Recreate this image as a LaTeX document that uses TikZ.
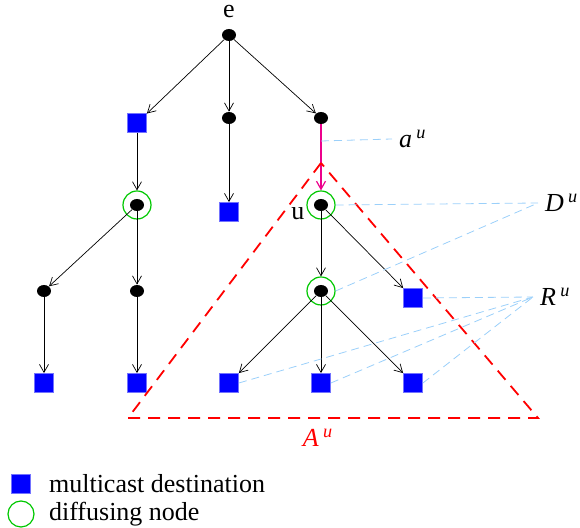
\documentclass[tikz,border=0pt]{standalone}
\usepackage{fontspec}
\setmainfont{Liberation Serif}
\usetikzlibrary{shapes.geometric,arrows.meta}
\definecolor{hintblue}{RGB}{155,208,250}
\definecolor{ringgreen}{RGB}{0,200,0}

\begin{document}
\begin{tikzpicture}[x=0.5pt,y=-0.5pt,
        every node/.style={font=\fontsize{13}{15}\selectfont},
        dot/.style={shape=ellipse,fill=black,minimum width=7pt,
          minimum height=6pt,inner sep=0pt},
        dest/.style={shape=rectangle,fill=blue,draw=blue!55!white,
          line width=0.4pt,minimum size=9.5pt,inner sep=0pt},
        ring/.style={shape=circle,draw=ringgreen,line width=0.6pt,
          minimum size=#1,inner sep=0pt},ring/.default=14pt,
        edge/.style={->,>={Straight Barb[length=4pt,width=4.5pt]},
          line width=0.35pt},
        area/.style={draw=red,line width=0.9pt,dash pattern=on 6pt off 4pt},
        hint/.style={draw=hintblue,line width=0.4pt,dash pattern=on 4pt off 2.5pt}]
      \useasboundingbox (0,0) rectangle (580,528);
      % tree
      \node[dot,name=e] at (229,35) {};
      \node[name=elab] at (229,12) {e};
      \node[dest,name=s1] at (137,123) {};
      \node[dot,name=d2] at (229,118) {};
      \node[dot,name=d3] at (321,118) {};
      \node[ring,name=r1] at (137,205) {};
      \node[dot,name=c1] at (137,205) {};
      \node[dest,name=s2] at (229,212) {};
      \node[ring,name=ru] at (321,205) {};
      \node[dot,name=u] at (321,205) {};
      \node[name=ulab] at (298,214) {u};
      \node[dot,name=d4] at (44,291) {};
      \node[dot,name=d5] at (137,291) {};
      \node[ring,name=r2] at (321,291) {};
      \node[dot,name=c2] at (321,291) {};
      \node[dest,name=s3] at (413,298) {};
      \node[dest,name=s4] at (44,383) {};
      \node[dest,name=s5] at (137,383) {};
      \node[dest,name=s6] at (229,383) {};
      \node[dest,name=s7] at (321,383) {};
      \node[dest,name=s8] at (413,383) {};
      \draw[edge] (e) -- (s1);
      \draw[edge] (e) -- (d2);
      \draw[edge] (e) -- (d3);
      \draw[edge] (s1) -- (r1);
      \draw[edge] (d2) -- (s2);
      \draw[edge,magenta,line width=0.6pt] (d3) -- (ru);
      \draw[edge] (c1) -- (d4);
      \draw[edge] (c1) -- (d5);
      \draw[edge] (d4) -- (s4);
      \draw[edge] (d5) -- (s5);
      \draw[edge] (u) -- (r2);
      \draw[edge] (u) -- (s3);
      \draw[edge] (c2) -- (s6);
      \draw[edge] (c2) -- (s7);
      \draw[edge] (c2) -- (s8);
      % subtree of u
      \coordinate (top) at (321,163);
      \coordinate (bl) at (128,418);
      \coordinate (br) at (538,418);
      \draw[area] (top) -- (bl) -- (br) -- cycle;
      \node[red,name=alab] at (318,438) {\textit{A}\,\textsuperscript{\textit{u}}};
      % labels
      \coordinate (au) at (321,141);
      \node[anchor=west,name=aulab] at (392,139) {\textit{a}\,\textsuperscript{\textit{u}}};
      \draw[hint] (au) -- (aulab.west);
      \node[anchor=west,name=dlab] at (538,203) {\textit{D}\,\textsuperscript{\textit{u}}};
      \draw[hint] (ru.east) -- (dlab.west);
      \draw[hint] (r2.east) -- (dlab.west);
      \node[anchor=west,name=rlab] at (533,297) {\textit{R}\,\textsuperscript{\textit{u}}};
      \draw[hint] (s3.east) -- (rlab.west);
      \draw[hint] (s6.east) -- (rlab.west);
      \draw[hint] (s7.east) -- (rlab.west);
      \draw[hint] (s8.east) -- (rlab.west);
      % legend
      \node[dest,name=key1] at (21,484) {};
      \node[anchor=west,name=key1lab] at (42,484) {multicast destination};
      \node[ring=13pt,name=key2] at (21,514) {};
      \node[anchor=west,name=key2lab] at (42,514) {diffusing node};
    \end{tikzpicture}
\end{document}
